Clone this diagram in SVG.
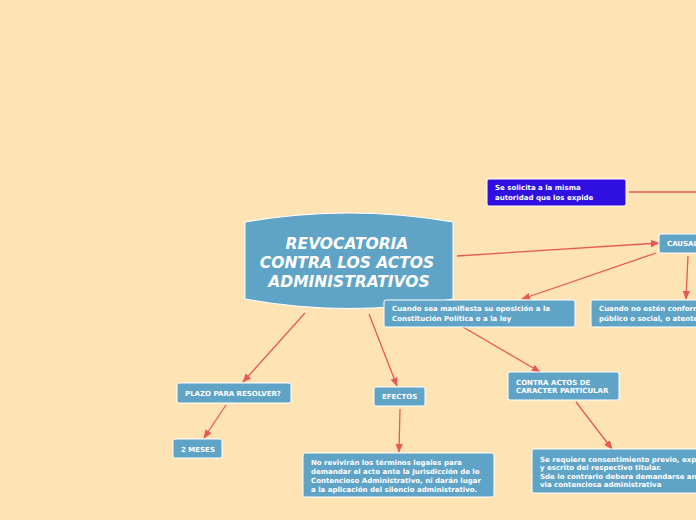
<svg xmlns="http://www.w3.org/2000/svg" width="696" height="520" viewBox="0 0 696 520">
<defs>
<marker id="a" viewBox="0 0 10 10" refX="9" refY="5" markerWidth="7" markerHeight="7" orient="auto"><path d="M0,1 L10,5 L0,9 z" fill="#e85858"/></marker>
<style>
.n{fill:#5fa4c7;stroke:#ffffff;stroke-width:1}
.t{font-family:"DejaVu Sans",Verdana,sans-serif;font-size:7px;font-weight:bold;fill:#fff}
.c{stroke:#e85858;stroke-width:1.3;fill:none}
</style>
</defs>
<rect width="696" height="520" fill="#fee4b4"/>
<g id="connectors">
<path class="c" d="M457,256 L659,243" marker-end="url(#a)"/>
<path class="c" d="M629,192 L696,192"/>
<path class="c" d="M656,253 L522,299" marker-end="url(#a)"/>
<path class="c" d="M688,256 L686,299" marker-end="url(#a)"/>
<path class="c" d="M305,313 L243,382" marker-end="url(#a)"/>
<path class="c" d="M369,314 L397,386" marker-end="url(#a)"/>
<path class="c" d="M463,327 L540,372" marker-end="url(#a)"/>
<path class="c" d="M400,409 L399,452" marker-end="url(#a)"/>
<path class="c" d="M226,405 L204,438" marker-end="url(#a)"/>
<path class="c" d="M576,402 L612,449" marker-end="url(#a)"/>
</g>
<g id="central">
<path class="n" d="M245,222 Q349,204 453,222 L453,299 Q349,318 245,299 Z"/>
<text font-family="'DejaVu Sans',Verdana,sans-serif" font-size="15.5" font-weight="bold" font-style="italic" fill="#fff" text-anchor="middle"><tspan x="347" y="249">REVOCATORIA</tspan><tspan x="347" y="268">CONTRA LOS ACTOS</tspan><tspan x="349" y="287">ADMINISTRATIVOS</tspan></text>
</g>
<g id="solicita"><rect x="487" y="179" width="139" height="27" rx="2" fill="#3010e0" stroke="#fff"/><text class="t"><tspan x="495" y="190">Se solicita a la misma</tspan><tspan x="495" y="200">autoridad que los expide</tspan></text></g>
<g id="causales"><rect class="n" x="659" y="234" width="60" height="19" rx="2"/><text class="t" x="667" y="246">CAUSALES</text></g>
<g id="manifiesta"><rect class="n" x="384" y="300" width="191" height="27" rx="2"/><text class="t"><tspan x="392" y="311">Cuando sea manifiesta su oposición a la</tspan><tspan x="392" y="321">Constitución Política o a la ley</tspan></text></g>
<g id="conformes"><rect class="n" x="591" y="300" width="200" height="27" rx="2"/><text class="t"><tspan x="599" y="311">Cuando no estén conformes con el interés</tspan><tspan x="599" y="321">público o social, o atenten contra él</tspan></text></g>
<g id="plazo"><rect class="n" x="177" y="383" width="114" height="20" rx="2"/><text class="t" x="185" y="396">PLAZO PARA RESOLVER?</text></g>
<g id="meses"><rect class="n" x="173" y="439" width="49" height="19" rx="2"/><text class="t" x="181" y="452">2 MESES</text></g>
<g id="efectos"><rect class="n" x="374" y="387" width="51" height="19" rx="2"/><text class="t" x="382" y="399">EFECTOS</text></g>
<g id="revivir"><rect class="n" x="303" y="453" width="191" height="44" rx="2"/><text class="t"><tspan x="311" y="465">No revivirán los términos legales para</tspan><tspan x="311" y="474">demandar el acto ante la Jurisdicción de lo</tspan><tspan x="311" y="483">Contencioso Administrativo, ni darán lugar</tspan><tspan x="311" y="492">a la aplicación del silencio administrativo.</tspan></text></g>
<g id="particular"><rect class="n" x="508" y="372" width="111" height="28" rx="2"/><text class="t"><tspan x="516" y="385">CONTRA ACTOS DE</tspan><tspan x="516" y="393">CARACTER PARTICULAR</tspan></text></g>
<g id="requiere"><rect class="n" x="532" y="449" width="220" height="44" rx="2"/><text class="t"><tspan x="540" y="462">Se requiere consentimiento previo, expreso</tspan><tspan x="540" y="470">y escrito del respectivo titular.</tspan><tspan x="540" y="479">Sde lo contrario debera demandarse ante la</tspan><tspan x="540" y="487">via contenciosa administrativa</tspan></text></g>
</svg>
